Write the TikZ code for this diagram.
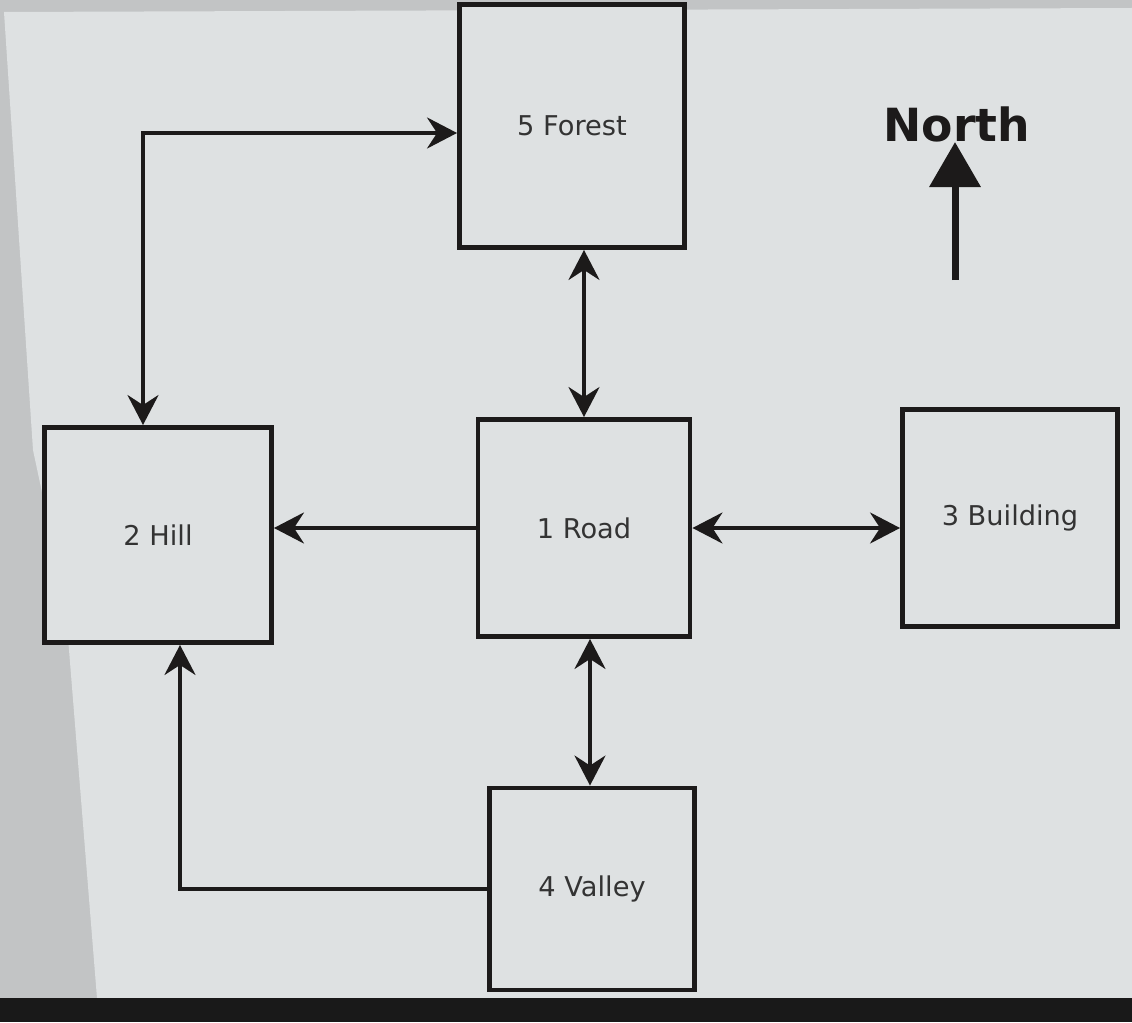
\documentclass[tikz,border=0pt]{standalone}
\usepackage{fontspec}
\setmainfont{DejaVu Sans}
\usetikzlibrary{arrows.meta}
\definecolor{screen}{HTML}{DEE1E2}
\definecolor{bezel}{HTML}{C2C4C5}
\definecolor{ink}{HTML}{1C1A1A}

\begin{document}
\begin{tikzpicture}[
  x=0.2mm, y=-0.2mm,
  >={Stealth[length=6mm, width=6.2mm, inset=2mm]},
  room/.style  = {
    draw=ink, line width=2.8pt,
    fill=screen, inner sep=0pt,
    font=\fontsize{15.5}{18}\selectfont,
    text=black!80
  },
  link/.style  = {draw=ink, line width=2.1pt},
  label/.style = {font=\fontsize{26}{30}\selectfont\bfseries, text=ink, inner sep=0pt}
]

% ---- screen ----
\fill[bezel] (0,0) rectangle (1132,1022);
\fill[screen] (4,12) -- (1132,8) -- (1132,998) -- (97,998) -- (65,600) -- (33,450) -- cycle;
\fill[black!90] (0,998) rectangle (1132,1022);
\useasboundingbox (0,0) rectangle (1132,1022);

% ---- rooms ----
\node[room, minimum width=45mm,   minimum height=48.6mm] (forest)   at (572,126)  {5 Forest};
\node[room, minimum width=45.4mm, minimum height=43mm]   (hill)     at (158,535)  {2 Hill};
\node[room, minimum width=42.4mm, minimum height=43.4mm] (road)     at (584,528)  {1 Road};
\node[room, minimum width=43mm,   minimum height=43.4mm] (building) at (1010,518) {3 Building};
\node[room, minimum width=41mm,   minimum height=40.4mm] (valley)   at (592,889)  {4 Valley};

% ---- compass ----
\node[label] (north) at (957,124) {North};
\coordinate (nbase) at (955,280);
\draw[ink, line width=4pt, -{Triangle[length=9mm, width=10mm]}] (nbase) -- (nbase |- north.south);

% ---- exits ----
\draw[link, <->] ([xshift=-3mm]hill.north) |- ([yshift=-1.4mm]forest.west);
\draw[link, <->] (road.north) -- (road.north |- forest.south);
\draw[link, ->]  (road.west) -- (road.west -| hill.east);
\draw[link, <->] (road.east) -- (road.east -| building.west);
\draw[link, <->] ([xshift=1.2mm]road.south) -- ([xshift=1.2mm]road.south |- valley.north);
\draw[link, ->]  (valley.west) -| ([xshift=4.4mm]hill.south);

\end{tikzpicture}
\end{document}
